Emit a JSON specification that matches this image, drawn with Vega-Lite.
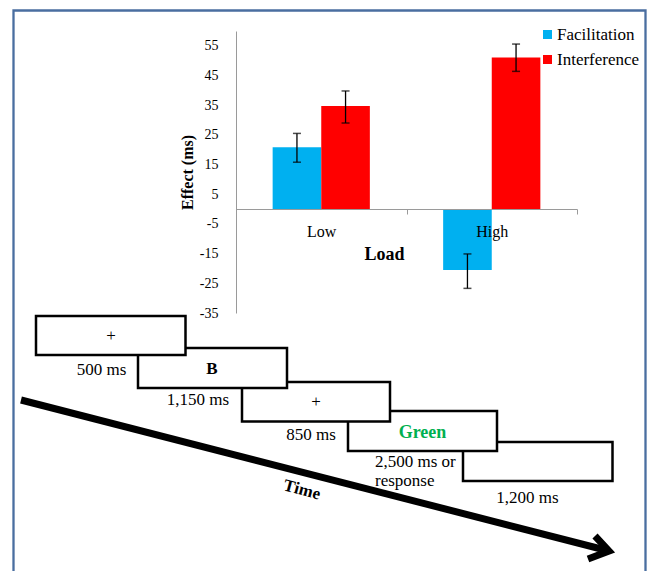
{
  "$schema": "https://vega.github.io/schema/vega-lite/v6.json",
  "width": 341,
  "height": 282,
  "autosize": {"type": "none"},
  "padding": {"left": 236, "top": 31, "right": 70, "bottom": 258},
  "background": "white",
  "config": {"view": {"stroke": null}, "font": "Liberation Serif"},
  "datasets": {
    "effects": [
      {"Load": "Low", "Effect": "Facilitation", "value": 20.8, "lo": 15.8, "hi": 25.5},
      {"Load": "Low", "Effect": "Interference", "value": 34.7, "lo": 29.0, "hi": 39.8},
      {"Load": "High", "Effect": "Facilitation", "value": -20.5, "lo": -26.7, "hi": -15.1},
      {"Load": "High", "Effect": "Interference", "value": 51.1, "lo": 46.4, "hi": 55.6}
    ],
    "frame": [{"x1": 1.35, "x2": 64.55, "y1": 1.05, "y2": 60}],
    "boxes": [
      {"box": 5, "x1": 46.3, "x2": 61.25, "y1": 44.2, "y2": 48.1},
      {"box": 4, "x1": 34.8, "x2": 49.7, "y1": 41.1, "y2": 45.1},
      {"box": 3, "x1": 24.2, "x2": 39.0, "y1": 38.2, "y2": 42.15},
      {"box": 2, "x1": 13.8, "x2": 28.7, "y1": 34.8, "y2": 38.8},
      {"box": 1, "x1": 3.6, "x2": 18.55, "y1": 31.6, "y2": 35.5}
    ],
    "plainLabels": [
      {"label": "+", "x": 11.1, "y": 33.6},
      {"label": "+", "x": 31.6, "y": 40.2},
      {"label": "500 ms", "x": 10.15, "y": 37.0},
      {"label": "1,150 ms", "x": 19.8, "y": 40.0},
      {"label": "850 ms", "x": 31.1, "y": 43.5},
      {"label": "1,200 ms", "x": 52.75, "y": 49.8}
    ],
    "leftLabels": [
      {"label": "2,500 ms or", "x": 37.5, "y": 46.15},
      {"label": "response", "x": 37.5, "y": 48.1}
    ],
    "boldLabels": [{"label": "B", "x": 21.2, "y": 36.9}],
    "greenLabels": [{"label": "Green", "x": 42.25, "y": 43.3}],
    "timeLabel": [{"label": "Time", "x": 30.2, "y": 49.0}],
    "arrow": [
      {"part": "shaft", "seq": 1, "x": 2.1, "y": 40.0},
      {"part": "shaft", "seq": 2, "x": 60.9, "y": 55.1},
      {"part": "head", "seq": 1, "x": 59.5, "y": 53.6},
      {"part": "head", "seq": 2, "x": 60.9, "y": 55.1},
      {"part": "head", "seq": 3, "x": 58.8, "y": 55.9}
    ]
  },
  "layer": [
    {
      "data": {"name": "effects"},
      "layer": [
        {
          "mark": {"type": "bar"},
          "encoding": {
            "x": {
              "field": "Load", "type": "nominal", "sort": ["Low", "High"], "title": "Load",
              "scale": {"paddingInner": 0, "paddingOuter": 0},
              "axis": {
                "orient": "bottom", "offset": -104, "labelAngle": 0, "tickBand": "extent", "zindex": 1,
                "tickSize": 5, "tickColor": "#9a9a9a", "domainColor": "#9a9a9a",
                "labelPadding": 9, "labelFont": "Liberation Serif", "labelFontSize": 16, "labelColor": "#000",
                "titleFont": "Liberation Serif", "titleFontSize": 18, "titleFontWeight": "bold", "titleColor": "#000",
                "titleX": 148, "titleY": 45, "titleBaseline": "middle", "titleAnchor": "middle"
              }
            },
            "xOffset": {
              "field": "Effect", "type": "nominal", "sort": ["Facilitation", "Interference"],
              "scale": {"paddingInner": 0, "paddingOuter": 0.754}
            },
            "y": {
              "field": "value", "type": "quantitative", "title": "Effect (ms)",
              "scale": {"domain": [-35, 60], "nice": false, "zero": false},
              "axis": {
                "values": [-35, -25, -15, -5, 5, 15, 25, 35, 45, 55], "tickCount": 30, "labelOverlap": false,
                "labelExpr": "toString(datum.value)",
                "grid": false, "ticks": false, "tickSize": 0, "labelPadding": 18,
                "labelFont": "Liberation Serif", "labelFontSize": 14, "labelColor": "#000",
                "domainColor": "#9a9a9a",
                "titleFont": "Liberation Serif", "titleFontSize": 16, "titleFontWeight": "bold",
                "titleColor": "#000", "titlePadding": 4
              }
            },
            "y2": {"datum": 0},
            "color": {
              "field": "Effect", "type": "nominal",
              "scale": {"domain": ["Facilitation", "Interference"], "range": ["#00B0F0", "#FF0000"]},
              "legend": {
                "orient": "none", "legendX": 303, "legendY": -5, "title": null,
                "symbolType": "square", "symbolSize": 81, "symbolStrokeWidth": 0,
                "labelFont": "Liberation Serif", "labelFontSize": 17, "labelColor": "#000",
                "rowPadding": 7, "padding": 0, "labelOffset": 1
              }
            }
          }
        },
        {
          "mark": {"type": "rule", "color": "#000", "strokeWidth": 1.3},
          "encoding": {
            "x": {"field": "Load", "type": "nominal", "sort": ["Low", "High"], "title": "Load"},
            "xOffset": {"field": "Effect", "type": "nominal", "sort": ["Facilitation", "Interference"]},
            "y": {"field": "lo", "type": "quantitative", "title": "Effect (ms)"},
            "y2": {"field": "hi"}
          }
        },
        {
          "mark": {"type": "tick", "color": "#000", "size": 8, "thickness": 1.5},
          "encoding": {
            "x": {"field": "Load", "type": "nominal", "sort": ["Low", "High"], "title": "Load"},
            "xOffset": {"field": "Effect", "type": "nominal", "sort": ["Facilitation", "Interference"]},
            "y": {"field": "lo", "type": "quantitative", "title": "Effect (ms)"}
          }
        },
        {
          "mark": {"type": "tick", "color": "#000", "size": 8, "thickness": 1.5},
          "encoding": {
            "x": {"field": "Load", "type": "nominal", "sort": ["Low", "High"], "title": "Load"},
            "xOffset": {"field": "Effect", "type": "nominal", "sort": ["Facilitation", "Interference"]},
            "y": {"field": "hi", "type": "quantitative", "title": "Effect (ms)"}
          }
        }
      ]
    },
    {
      "layer": [
        {
          "data": {"name": "frame"},
          "mark": {"type": "rect", "fillOpacity": 0, "stroke": "#4A6EA0", "strokeWidth": 2.3},
          "encoding": {
            "x": {"field": "x1", "type": "quantitative", "scale": {"domain": [23.6, 57.7], "nice": false, "zero": false}, "axis": null},
            "x2": {"field": "x2"},
            "y": {"field": "y1", "type": "quantitative", "scale": {"domain": [3.1, 31.3], "reverse": true, "nice": false, "zero": false}, "axis": null},
            "y2": {"field": "y2"}
          }
        },
        {
          "data": {"name": "arrow"},
          "mark": {"type": "line", "color": "#000", "strokeWidth": 7, "strokeJoin": "miter", "strokeCap": "butt"},
          "encoding": {
            "x": {"field": "x", "type": "quantitative", "scale": {"domain": [23.6, 57.7], "nice": false, "zero": false}, "axis": null},
            "y": {"field": "y", "type": "quantitative", "scale": {"domain": [3.1, 31.3], "reverse": true, "nice": false, "zero": false}, "axis": null},
            "detail": {"field": "part"},
            "order": {"field": "seq"}
          }
        },
        {
          "data": {"name": "boxes"},
          "mark": {"type": "rect", "fill": "white", "stroke": "#000", "strokeWidth": 2.5},
          "encoding": {
            "x": {"field": "x1", "type": "quantitative", "scale": {"domain": [23.6, 57.7], "nice": false, "zero": false}, "axis": null},
            "x2": {"field": "x2"},
            "y": {"field": "y1", "type": "quantitative", "scale": {"domain": [3.1, 31.3], "reverse": true, "nice": false, "zero": false}, "axis": null},
            "y2": {"field": "y2"}
          }
        },
        {
          "data": {"name": "plainLabels"},
          "mark": {"type": "text", "font": "Liberation Serif", "fontSize": 17, "color": "#000", "align": "center", "baseline": "middle"},
          "encoding": {
            "x": {"field": "x", "type": "quantitative", "scale": {"domain": [23.6, 57.7], "nice": false, "zero": false}, "axis": null},
            "y": {"field": "y", "type": "quantitative", "scale": {"domain": [3.1, 31.3], "reverse": true, "nice": false, "zero": false}, "axis": null},
            "text": {"field": "label"}
          }
        },
        {
          "data": {"name": "leftLabels"},
          "mark": {"type": "text", "font": "Liberation Serif", "fontSize": 17, "color": "#000", "align": "left", "baseline": "middle"},
          "encoding": {
            "x": {"field": "x", "type": "quantitative", "scale": {"domain": [23.6, 57.7], "nice": false, "zero": false}, "axis": null},
            "y": {"field": "y", "type": "quantitative", "scale": {"domain": [3.1, 31.3], "reverse": true, "nice": false, "zero": false}, "axis": null},
            "text": {"field": "label"}
          }
        },
        {
          "data": {"name": "boldLabels"},
          "mark": {"type": "text", "font": "Liberation Serif", "fontSize": 17, "fontWeight": "bold", "color": "#000", "align": "center", "baseline": "middle"},
          "encoding": {
            "x": {"field": "x", "type": "quantitative", "scale": {"domain": [23.6, 57.7], "nice": false, "zero": false}, "axis": null},
            "y": {"field": "y", "type": "quantitative", "scale": {"domain": [3.1, 31.3], "reverse": true, "nice": false, "zero": false}, "axis": null},
            "text": {"field": "label"}
          }
        },
        {
          "data": {"name": "greenLabels"},
          "mark": {"type": "text", "font": "Liberation Serif", "fontSize": 18, "fontWeight": "bold", "color": "#00B050", "align": "center", "baseline": "middle"},
          "encoding": {
            "x": {"field": "x", "type": "quantitative", "scale": {"domain": [23.6, 57.7], "nice": false, "zero": false}, "axis": null},
            "y": {"field": "y", "type": "quantitative", "scale": {"domain": [3.1, 31.3], "reverse": true, "nice": false, "zero": false}, "axis": null},
            "text": {"field": "label"}
          }
        },
        {
          "data": {"name": "timeLabel"},
          "mark": {"type": "text", "font": "Liberation Serif", "fontSize": 17, "fontWeight": "bold", "color": "#000", "align": "center", "baseline": "middle", "angle": 15},
          "encoding": {
            "x": {"field": "x", "type": "quantitative", "scale": {"domain": [23.6, 57.7], "nice": false, "zero": false}, "axis": null},
            "y": {"field": "y", "type": "quantitative", "scale": {"domain": [3.1, 31.3], "reverse": true, "nice": false, "zero": false}, "axis": null},
            "text": {"field": "label"}
          }
        }
      ]
    }
  ],
  "resolve": {"scale": {"x": "independent", "y": "independent"}}
}
